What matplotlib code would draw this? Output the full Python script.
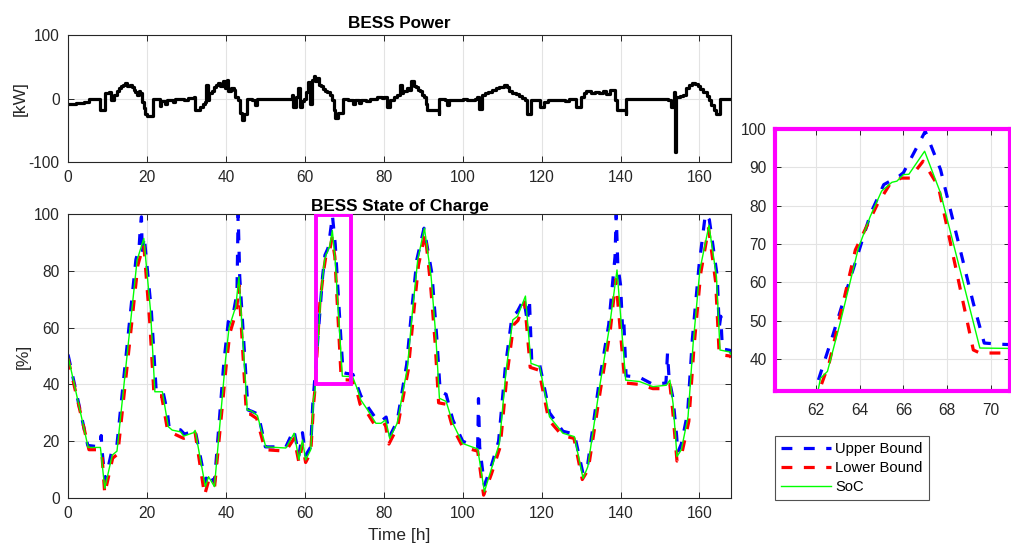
import matplotlib
matplotlib.use('Agg')
import matplotlib.pyplot as plt
from matplotlib.patches import Rectangle

plt.rcParams['font.family'] = ['Liberation Sans', 'DejaVu Sans']
plt.rcParams['font.size'] = 10
plt.rcParams['axes.unicode_minus'] = False

# --- BESS power [kW] (stairs)
power_t = [0, 2, 4, 5.2, 8.1, 9.4, 10.4, 11.0, 11.6, 12.3, 12.8, 13.5, 14.0, 14.5, 15.0, 15.6,
           16.1, 16.6, 17.0, 17.5, 17.9, 18.3, 18.7, 19.2, 19.6, 20.0, 21.6, 23.2, 23.6, 24.5,
           25.0, 26.5, 27.0, 28.4, 29.5, 30.5, 31.8, 32.2, 33.5, 34.3, 34.8, 35.0, 35.4, 35.8,
           36.5, 37.0, 37.5, 38.0, 38.6, 39.2, 39.8, 40.2, 40.6, 41.2, 42.0, 42.4, 43.0, 43.5,
           44.0, 44.6, 45.3, 46.5, 47.3, 47.8, 49.0, 55.5, 56.7, 57.1, 57.7, 58.3, 58.7, 59.3,
           59.8, 60.4, 60.9, 61.4, 61.7, 62.2, 62.6, 63.0, 63.5, 64.0, 64.5, 65.2, 65.7, 66.4,
           66.9, 67.3, 67.7, 68.3, 69.7, 71.0, 72.3, 72.8, 73.7, 74.3, 75.5, 76.5, 78.3, 79.5,
           80.0, 80.8, 81.6, 82.5, 83.3, 84.2, 84.6, 85.0, 85.8, 86.4, 87.0, 87.6, 88.1, 88.8,
           89.3, 89.8, 90.2, 90.6, 91.0, 93.9, 94.0, 95.5, 96.0, 96.5, 98.0, 100.0, 101.0, 103.0,
           103.7, 104.1, 104.8, 105.6, 106.5, 107.5, 108.5, 109.3, 110.5, 111.2, 111.8, 112.6,
           113.5, 114.2, 115.0, 115.8, 116.3, 117.2, 119.7, 120.5, 121.5, 124.0, 126.0, 127.0,
           128.3, 128.6, 129.9, 130.8, 131.2, 132.5, 133.5, 134.5, 135.5, 136.3, 137.2, 138.0,
           138.7, 139.2, 141.3, 141.5, 145.0, 148.0, 152.0, 152.7, 153.5, 153.9, 154.1, 155.0,
           155.8, 156.5, 157.3, 158.0, 158.8, 159.5, 160.2, 161.0, 161.8, 162.4, 163.0, 163.6,
           164.1, 165.0, 165.1, 167.0, 168.0]
power_v = [-8, -7, -6, -1, -18, 8, 10, -2, 6, 12, 16, 20, 22, 24, 20, 22,
           18, 14, 10, 5, 12, 8, -5, -15, -24, -27, 0, -12, -4, -8,
           -2, -5, -1, 0, -2, 1, 2, -18, -13, -8, -5, 22, -3, 8,
           12, 18, 22, 25, 20, 27, 16, 30, 12, 16, 13, 3, -2, -22,
           -34, -25, 0, -3, -10, -1, 0, 0, 5, -13, 2, 16, -13, -4,
           0, 10, 26, -8, 30, 36, 28, 32, 22, 20, 15, 12, 10, 5,
           -2, -18, -30, -22, 0, -2, -8, -3, -7, -2, -4, 0, 2, 1,
           3, -13, -2, 3, 5, 21, 8, 12, 17, 14, 27, 20, 18, 14,
           12, 6, 2, -8, -18, -24, 0, -3, -10, -2, -3, -1, -2, 0,
           2, -16, 5, 8, 10, 14, 16, 19, 21, 18, 12, 9,
           7, 4, 1, -2, -24, -2, -13, -5, -3, -2, -4, -1,
           0, -13, 2, 8, 12, 8, 11, 9, 12, 7, 13, 14,
           -2, -18, -24, 0, -1, 0, -2, -13, 10, -84, 2, 4,
           6, 16, 21, 24, 23, 20, 15, 10, 4, -3, -10, -18,
           -24, -24, 0, -1, -1]

# --- state of charge [%]
soc_t = [0, 5.1, 8.2, 9.3, 11.2, 12.4, 17.5, 19.2, 20.9, 22.0, 23.9, 25.4, 26.4, 28.5, 29.3,
         31.8, 32.2, 34.8, 35.6, 37.1, 39.9, 40.8, 42.5, 43.3, 45.4, 46.4, 48.0, 50.1, 55.2,
         57.3, 58.5, 59.4, 60.2, 61.5, 62.03, 62.2, 62.52, 63.1, 63.94, 64.48, 65.0, 65.47,
         65.7, 66.0, 66.25, 66.97, 67.7, 69.5, 72.1, 73.4, 74.2, 75.9, 78.0, 79.3, 80.5, 81.5,
         83.4, 86.0, 87.3, 88.6, 90.3, 92.0, 93.2, 94.1, 95.8, 97.5, 100.0, 102.5, 103.8, 105.5,
         107.2, 109.3, 111.0, 112.7, 113.9, 115.9, 117.3, 119.5, 122.0, 125.4, 128.3, 130.5,
         131.7, 134.7, 137.2, 139.1, 141.3, 144.8, 148.2, 151.6, 152.5, 153.3, 154.3, 155.4,
         157.1, 158.4, 160.1, 162.4, 164.3, 165.2, 167.7, 168.0]
soc_v = [50, 17.8, 17.8, 3.4, 15.1, 16.5, 83.8, 91.4, 66, 37.4, 37.4, 25.1, 23.9, 23.3, 21.8,
         23.0, 23.8, 4.0, 7.5, 4.0, 48.6, 60, 67.4, 77.9, 31, 30.7, 29, 18, 17.6,
         22.8, 13.5, 20.4, 13.4, 17, 30, 35, 36.8, 49.4, 69, 77.2, 83.8, 86.1,
         86.4, 88.1, 88.2, 94.2, 83.3, 42.9, 42.7, 38, 34.5, 31, 26.3, 26.3, 27.5, 21,
         26.3, 46, 66.2, 83.8, 95, 77.9, 56.8, 35.1, 34, 26.3, 19.2, 17.9, 17.3, 2.2,
         9.9, 19.2, 45, 62.7, 64, 71.1, 47.4, 46.3, 28.6, 22.8, 21.6, 6.9,
         11, 39.2, 60.3, 80.3, 41.5, 41, 39.2, 39.7, 41.5, 33.3, 14.6, 17,
         28.6, 54.5, 80.3, 96, 77.9, 52.1, 51.4, 50.5]

up_t = [0, 5.0, 8.0, 8.4, 8.6, 9.4, 11.0, 12.3, 17.2, 18.0, 18.3, 18.6, 18.8, 19.3, 21.1, 22.3,
        23.9, 25.2, 25.6, 26.5, 28.5, 29.5, 31.8, 32.2, 34.8, 35.6, 37.1, 39.5, 40.6, 42.0,
        42.8, 43.1, 43.5, 45.6, 46.6, 48.2, 50.0, 55.2, 57.2, 58.5, 59.4, 60.2, 61.5, 62.0,
        62.7, 63.5, 64.5, 65.1, 65.8, 66.0, 67.0, 67.7, 69.2, 69.7, 70.4, 72.2, 73.4, 74.2,
        76.0, 78.0, 79.3, 80.6, 81.6, 83.4, 85.8, 87.0, 88.4, 90.2, 92.2, 93.4, 94.3, 95.8,
        97.5, 100.0, 102.5, 103.8, 104.0, 104.3, 105.5, 107.2, 109.1, 110.8, 112.5, 113.8,
        115.5, 116.4, 116.9, 117.5, 119.5, 122.0, 125.4, 128.3, 130.5, 131.7, 134.5, 137.0,
        138.6, 138.9, 139.3, 140.0, 140.5, 140.8, 141.4, 144.8, 148.2, 151.5, 151.9, 152.3,
        153.3, 154.2, 154.5, 155.4, 157.0, 158.2, 159.9, 161.5, 162.5, 164.5, 165.0, 165.4,
        165.8, 167.7, 168.0]
up_v = [50.5, 18.5, 18, 22, 17, 6, 16, 17.5, 84, 88, 95, 99, 86, 92, 66, 38.5,
        38.5, 30, 25, 24.5, 24, 22.5, 23.5, 24, 5.5, 9, 5.5, 48, 62, 66,
        72, 100, 78, 31, 30.5, 29.5, 18, 18, 24, 15, 23, 15, 18, 32.7,
        45, 59.8, 78, 85.5, 87.7, 88.6, 99.4, 89.4, 54.6, 44.2, 43.9, 43.5, 39, 36,
        32, 28, 27, 28.5, 22, 27, 47, 65, 84, 95, 79, 57, 37.5, 36.5,
        27.5, 20, 18.5, 18, 35, 18, 4.5, 11, 20, 46, 64, 65.5,
        70, 62, 70, 48, 47, 30, 23.5, 22.5, 8.5, 12, 40, 61,
        85, 100, 82, 75, 60, 63, 43, 42.5, 40, 40.5, 51, 42,
        35, 22, 16, 19, 30, 56, 82, 100, 98, 78, 60, 64,
        52.5, 52, 51]

lo_t = [0, 5.3, 8.0, 8.6, 9.3, 11.3, 12.6, 17.7, 18.5, 19.2, 20.7, 21.8, 23.7, 25.2, 26.2,
        28.5, 29.3, 31.6, 32.2, 34.6, 35.6, 37.1, 40.1, 41.0, 42.7, 43.3, 45.2, 46.2, 47.8,
        49.9, 55.2, 57.3, 58.5, 59.4, 60.2, 61.5, 62.2, 62.6, 63.8, 64.8, 65.4, 65.9, 66.3,
        66.9, 67.6, 69.2, 69.5, 70.4, 72.0, 73.3, 74.0, 75.8, 77.8, 79.2, 80.4, 81.3, 83.5,
        86.2, 87.5, 88.8, 90.5, 91.8, 93.0, 93.9, 95.8, 97.4, 100.0, 102.5, 103.8, 105.3,
        107.3, 109.5, 111.2, 112.9, 114.0, 115.7, 117.1, 119.3, 121.8, 125.2, 128.2, 130.3,
        131.8, 134.9, 137.4, 138.8, 141.1, 144.8, 148.2, 151.5, 152.5, 153.2, 154.3, 155.5,
        157.3, 158.6, 160.3, 162.3, 164.1, 165.0, 167.7, 168.0]
lo_v = [49, 17, 17, 15, 1.5, 14, 15.5, 82, 86, 89, 62, 36, 36, 24, 23,
        21.5, 21, 22, 23, 1, 6, 3.5, 47, 58, 66, 75, 29.5, 29.5, 28,
        17, 16.5, 21, 12.5, 19, 12.5, 16, 32.7, 39, 68.5, 80.3, 85.8, 87.2, 87.2,
        91.6, 85, 42.4, 41.6, 41.6, 41.5, 37, 33, 30, 25.5, 25, 26, 19, 25,
        45, 64, 82, 93, 76, 55, 33.5, 33, 25, 18, 17, 16.5, 1,
        8.5, 18, 43, 61, 62.5, 69, 46, 45, 27.5, 22, 21, 6.5,
        10, 38, 59, 77, 40.5, 40, 38.5, 38.5, 40, 31, 13, 15.5,
        27, 53, 79, 95, 76, 50.5, 50, 49.5]

txt = '#262626'
grid_c = '#e3e3e3'


def style(ax):
    ax.grid(True, color=grid_c, linewidth=0.8)
    ax.set_axisbelow(True)
    ax.tick_params(direction='in', top=True, right=True, length=4, width=0.7,
                   colors=txt, labelsize=11.2, pad=6)
    for s in ax.spines.values():
        s.set_color(txt)
        s.set_linewidth(0.8)


fig = plt.figure(figsize=(10.11, 5.47), dpi=100)

# top: power
ax1 = fig.add_axes([0.0673, 0.7038, 0.6558, 0.232])
ax1.plot(power_t, power_v, color='k', linewidth=2.3, drawstyle='steps-post')
ax1.set_xlim(0, 168)
ax1.set_ylim(-100, 100)
ax1.set_xticks(range(0, 161, 20))
ax1.set_yticks([-100, 0, 100])
ax1.set_ylabel('[kW]', fontsize=12.5, color=txt, labelpad=0.5)
ax1.set_title('BESS Power', fontsize=12.3, fontweight='bold', pad=5)
style(ax1)

# bottom: state of charge
ax2 = fig.add_axes([0.0673, 0.0896, 0.6558, 0.5192])
kw = dict(linewidth=2.3, dashes=(3.4, 3.6))
ax2.plot(up_t, up_v, color='#0000ff', label='Upper Bound', **kw)
ax2.plot(lo_t, lo_v, color='#ff0000', label='Lower Bound', **kw)
ax2.plot(soc_t, soc_v, color='#00ff00', linewidth=1.0, label='SoC')
ax2.add_patch(Rectangle((62.9, 40), 8.9, 59.5, fill=False, edgecolor='#ff00ff',
                        linewidth=2.8, zorder=5))
ax2.set_xlim(0, 168)
ax2.set_ylim(0, 100)
ax2.set_xticks(range(0, 161, 20))
ax2.set_yticks(range(0, 101, 20))
ax2.set_xlabel('Time [h]', fontsize=12.5, color=txt, labelpad=5)
ax2.set_ylabel('[%]', fontsize=12.5, color=txt, labelpad=2.5)
ax2.set_title('BESS State of Charge', fontsize=12.3, fontweight='bold', pad=2)
style(ax2)

# zoomed inset
ax3 = fig.add_axes([0.7666, 0.2852, 0.2324, 0.479])
ax3.plot(up_t, up_v, color='#0000ff', **kw)
ax3.plot(lo_t, lo_v, color='#ff0000', **kw)
ax3.plot(soc_t, soc_v, color='#00ff00', linewidth=1.0)
ax3.set_xlim(60.12, 70.88)
ax3.set_ylim(31.7, 100)
ax3.set_xticks(range(62, 71, 2))
ax3.set_yticks(range(40, 101, 10))
style(ax3)
ax3.tick_params(axis='x', pad=9)
for s in ax3.spines.values():
    s.set_color('#ff00ff')
    s.set_linewidth(3.0)

handles, labels = ax2.get_legend_handles_labels()
leg = fig.legend(handles, labels, loc='upper left', bbox_to_anchor=(0.7666, 0.203),
                 fontsize=10.6, frameon=True, fancybox=False, handlelength=3.4,
                 borderaxespad=0, borderpad=0.4, labelspacing=0.35, handletextpad=0.3)
leg.get_frame().set_edgecolor('#262626')
leg.get_frame().set_linewidth(0.8)

fig.savefig('out.png', dpi=100)
